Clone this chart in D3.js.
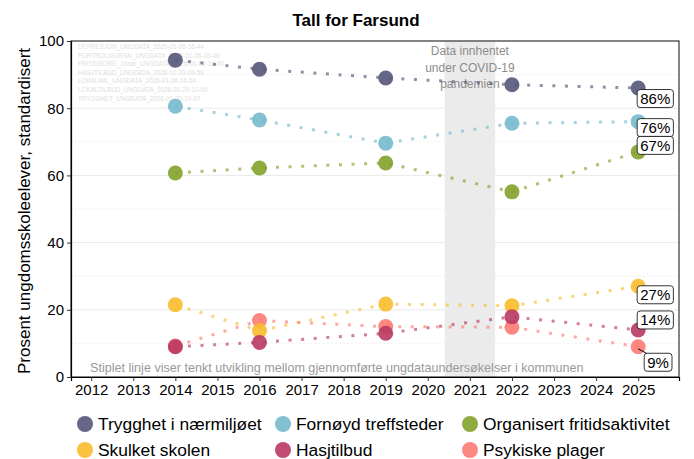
<!DOCTYPE html>
<html>
<head>
<meta charset="utf-8">
<script src="https://cdn.jsdelivr.net/npm/d3@7"></script>
<style>
  body { margin: 0; background: #fff; }
  svg { font-family: "Liberation Sans", Arial, sans-serif; }
</style>
</head>
<body>
<div id="fig-farsund"></div>
<script>
let figName = 'fig-farsund';

let width = 694;
let height = 459;

// data
let years = [2014, 2016, 2019, 2022, 2025];
let seriesNames = ['Trygghet i nærmiljøet', 'Fornøyd treffsteder', 'Organisert fritidsaktivitet',
                   'Skulket skolen', 'Hasjtilbud', 'Psykiske plager'];
let trygghet   = [94.3, 91.6, 89.0, 87.0, 86];
let fornoyd    = [80.6, 76.5, 69.6, 75.5, 76];
let organisert = [60.7, 62.2, 63.7, 55.1, 67];
let skulket    = [21.5, 13.8, 21.7, 21.2, 27];
let hasj       = [9.0, 10.3, 13.0, 17.9, 14];
let psykiske   = [9.2, 16.8, 15.0, 14.8, 9];
let xTicks = d3.range(2012, 2026);
let yTicks = [0, 20, 40, 60, 80, 100];
let covidBand = [2020.4, 2021.6];
let covidText = ['Data innhentet', 'under COVID-19', 'pandemien'];
let fileNotes = [
    'DEPRESJON_UNGDATA_2026-01-06-16-44',
    'FORTROLIGVENN_UNGDATA_2026-01-06-16-46',
    'FRITIDSORG_10aar_UNGDATA_2026-01-06-16-40',
    'HASJTILBUD_UNGDATA_2026-01-20-09-59',
    'LOKALMIL_UNGDATA_2026-01-08-16-50',
    'LOKALTILBUD_UNGDATA_2026-01-20-10-00',
    'TRYGGHET_UNGDATA_2026-01-20-10-07'
];

let colors = ['#55557a', '#76b9cd', '#82a22a', '#f8bd2c', '#b93a62', '#fd7b73'];
// label nudges (px right, px down) for the end labels, like ggrepel put them
let labelNudge = [[-1, 10.5], [-1, 6], [-1, -6.5], [-1, 8.5], [-1, -10], [6, 15.5]];

let series = [trygghet, fornoyd, organisert, skulket, hasj, psykiske].map((vals, i) => ({
    name: seriesNames[i],
    color: colors[i],
    nudge: labelNudge[i],
    values: vals.map((v, j) => ({year: years[j], value: v}))
}));

let svg = d3.select(`div#${figName}`).append('svg')
    .attr('width', width)
    .attr('height', height);

let panel = {left: 71, right: 679, top: 41, bottom: 377};

let x = d3.scaleLinear()
    .domain([2011.52, 2025.97])
    .range([panel.left, panel.right]);

let y = d3.scaleLinear()
    .domain([0, 100])
    .range([panel.bottom, panel.top]);

// gridlines
let grid = svg.append('g');
grid.selectAll('line.minor')
    .data(d3.range(10, 100, 20))
    .join('line')
    .attr('x1', panel.left).attr('x2', panel.right)
    .attr('y1', d => y(d)).attr('y2', d => y(d))
    .attr('stroke', '#e6e6e6')
    .attr('stroke-dasharray', '2,2')
    .attr('stroke-width', 0.6);
grid.selectAll('line.major')
    .data(yTicks.slice(1, -1))
    .join('line')
    .attr('x1', panel.left).attr('x2', panel.right)
    .attr('y1', d => y(d)).attr('y2', d => y(d))
    .attr('stroke', '#e4e4e4')
    .attr('stroke-width', 0.8);

// covid band
svg.append('rect')
    .attr('x', x(covidBand[0]))
    .attr('y', panel.top)
    .attr('width', x(covidBand[1]) - x(covidBand[0]))
    .attr('height', panel.bottom - panel.top)
    .attr('fill', '#ebebeb');

svg.append('text')
    .attr('x', x((covidBand[0] + covidBand[1]) / 2))
    .attr('y', 55)
    .attr('text-anchor', 'middle')
    .attr('fill', '#8c8c8c')
    .style('font-size', '12px')
    .selectAll('tspan')
    .data(covidText)
    .join('tspan')
    .attr('x', x((covidBand[0] + covidBand[1]) / 2))
    .attr('dy', (d, i) => i === 0 ? 0 : 16.5)
    .text(d => d);

// faint file notes
svg.append('g').selectAll('text')
    .data(fileNotes)
    .join('text')
    .attr('x', 78)
    .attr('y', (d, i) => 49 + i * 8.6)
    .attr('fill', '#dedede')
    .style('font-size', '6.3px')
    .text(d => d);

// footnote
svg.append('text')
    .attr('x', 90)
    .attr('y', 372)
    .attr('fill', '#9a9a9a')
    .style('font-size', '12.6px')
    .text('Stiplet linje viser tenkt utvikling mellom gjennomførte ungdataundersøkelser i kommunen');

// dotted lines
let line = d3.line()
    .x(d => x(d.year))
    .y(d => y(d.value));

svg.append('g').selectAll('path')
    .data(series)
    .join('path')
    .attr('d', d => line(d.values))
    .attr('fill', 'none')
    .attr('stroke', d => d.color)
    .attr('stroke-width', 3)
    .attr('stroke-dasharray', '3,9.6')
    .attr('opacity', 0.65);

// points
let drawOrder = [0, 1, 2, 5, 3, 4];
let pts = svg.append('g');
drawOrder.forEach(i => {
    pts.selectAll(null)
        .data(series[i].values)
        .join('circle')
        .attr('cx', d => x(d.year))
        .attr('cy', d => y(d.value))
        .attr('r', 7.5)
        .attr('fill', series[i].color)
        .attr('opacity', 0.9);
});

// end labels
let labels = svg.append('g');
series.forEach(s => {
    let last = s.values[s.values.length - 1];
    let px = x(last.year), py = y(last.value);
    let lx = px + s.nudge[0], ly = py + s.nudge[1];
    let txt = Math.round(last.value) + '%';
    let w = txt.length * 8.4 + 11, h = 18;
    if (Math.abs(s.nudge[1]) > 12) {
        labels.append('line')
            .attr('x1', px).attr('y1', py + 2)
            .attr('x2', lx + 4).attr('y2', ly - h / 2 + 1)
            .attr('stroke', '#000')
            .attr('stroke-width', 1);
    }
    labels.append('rect')
        .attr('x', lx)
        .attr('y', ly - h / 2)
        .attr('width', w)
        .attr('height', h)
        .attr('rx', 3)
        .attr('fill', '#fff')
        .attr('stroke', '#000')
        .attr('stroke-width', 0.8);
    labels.append('text')
        .attr('x', lx + w / 2)
        .attr('y', ly + 5.5)
        .attr('text-anchor', 'middle')
        .style('font-size', '15px')
        .text(txt);
});

// panel border
svg.append('rect')
    .attr('x', panel.left)
    .attr('y', panel.top)
    .attr('width', panel.right - panel.left)
    .attr('height', panel.bottom - panel.top)
    .attr('fill', 'none')
    .attr('stroke', '#333')
    .attr('stroke-width', 1.2);

// axes
let xAxis = svg.append('g')
    .attr('transform', `translate(0,${panel.bottom})`)
    .call(d3.axisBottom(x).tickValues(xTicks).tickFormat(d3.format('d')).tickSize(4).tickPadding(3));
let yAxis = svg.append('g')
    .attr('transform', `translate(${panel.left},0)`)
    .call(d3.axisLeft(y).tickValues(yTicks).tickSize(4).tickPadding(3));

[xAxis, yAxis].forEach(a => {
    a.select('.domain').attr('stroke', '#000').attr('stroke-width', 1.2);
    a.selectAll('.tick line').attr('stroke', '#333');
    a.selectAll('.tick text')
        .attr('fill', '#000')
        .style('font-size', '15px')
        .style('font-family', '"Liberation Sans", Arial, sans-serif');
});

// title
svg.append('text')
    .attr('x', 356)
    .attr('y', 26)
    .attr('text-anchor', 'middle')
    .style('font-size', '17px')
    .style('font-weight', 'bold')
    .text('Tall for Farsund');

// y title
svg.append('text')
    .attr('transform', `translate(30,${(panel.top + panel.bottom) / 2 + 2}) rotate(-90)`)
    .attr('text-anchor', 'middle')
    .style('font-size', '17px')
    .text('Prosent ungdomsskoleelever, standardisert');

// legend
let legendX = [85, 283, 470];
let legendY = [424, 450];
let legend = svg.append('g');
series.forEach((s, i) => {
    let lx = legendX[i % 3], ly = legendY[Math.floor(i / 3)];
    legend.append('circle')
        .attr('cx', lx).attr('cy', ly)
        .attr('r', 8)
        .attr('fill', s.color)
        .attr('opacity', 0.9);
    legend.append('text')
        .attr('x', lx + 13)
        .attr('y', ly + 6)
        .style('font-size', '17.4px')
        .text(s.name);
});
</script>
</body>
</html>
